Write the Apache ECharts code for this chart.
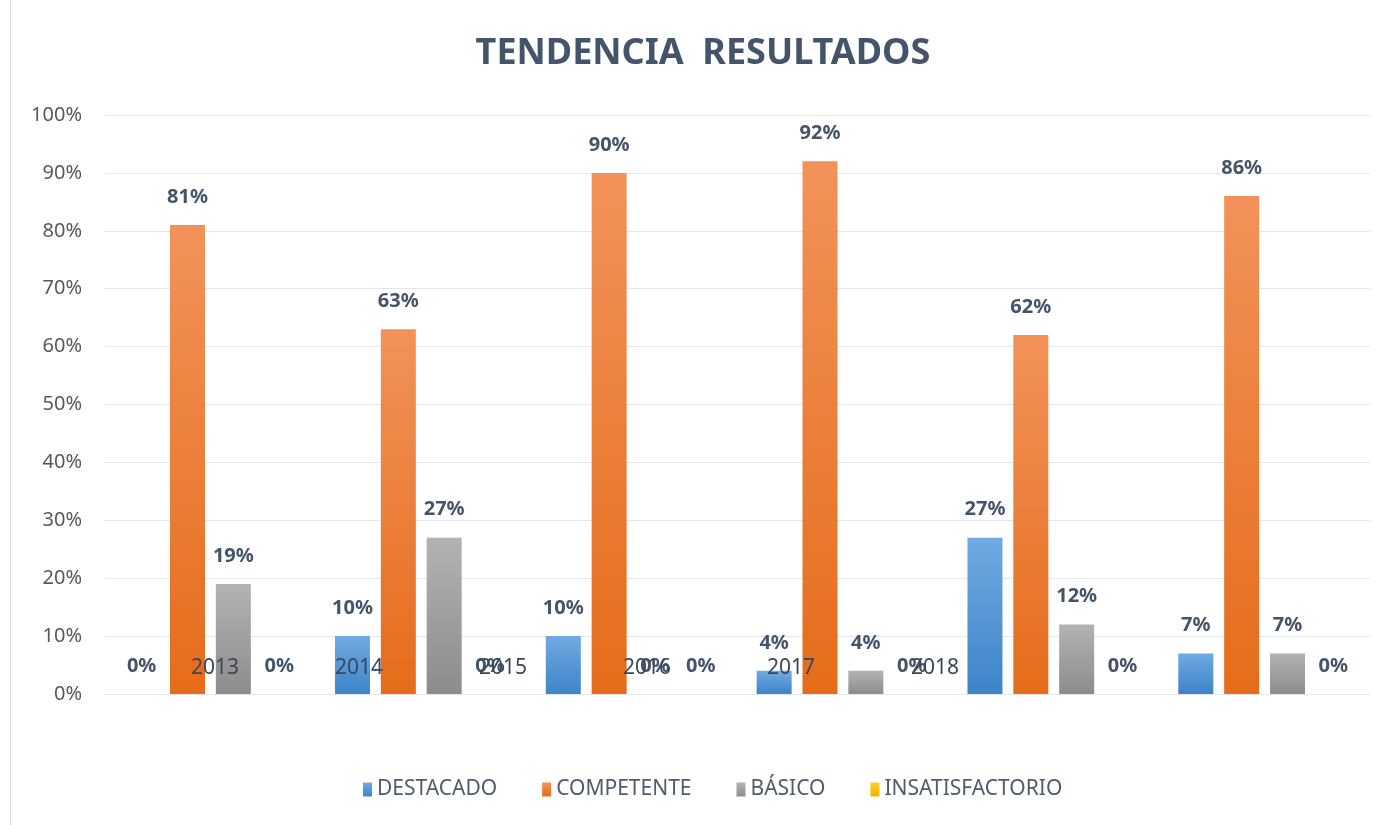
<!DOCTYPE html>
<html>
<head>
<meta charset="utf-8">
<title>Tendencia resultados</title>
<script src="https://cdn.jsdelivr.net/npm/echarts@6/dist/echarts.min.js"></script>
<style>
  html, body { margin: 0; padding: 0; background: #fff; }
  #chart { width: 1381px; height: 825px; }
  #edge { position: absolute; left: 10px; top: 0; width: 1px; height: 825px; background: #d9dde3; }
</style>
</head>
<body>
<div id="edge"></div>
<div id="chart"></div>
<script>
// datos
const years = ['2013', '2014', '2015', '2016', '2017', '2018']
const destacado = [0, 10, 10, 4, 27, 7]
const competente = [81, 63, 90, 92, 62, 86]
const basico = [19, 27, 0, 4, 12, 7]
const insatisfactorio = [0, 0, 0, 0, 0, 0]
const seriesNames = ['DESTACADO', 'COMPETENTE', 'BÁSICO', 'INSATISFACTORIO']

const font = '"Noto Sans", "Open Sans", sans-serif'

// degradado por barra, claro arriba y oscuro abajo
const grad = (top, bottom) => new echarts.graphic.LinearGradient(0, 0, 0, 1, [
  { offset: 0, color: top },
  { offset: 1, color: bottom }
])

const makeBar = (name, data, fill) => ({
  name: name,
  type: 'bar',
  data: data,
  barWidth: 35,
  barGap: '31%',
  itemStyle: { color: fill },
  label: {
    show: true,
    position: 'top',
    distance: 18,
    formatter: '{c}%',
    color: '#44546a',
    fontFamily: font,
    fontSize: 20,
    fontWeight: 'bold'
  },
  emphasis: { disabled: true }
})

const chart = echarts.init(document.getElementById('chart'))

chart.setOption({
  animation: false,
  color: ['#5b9bd5', '#ed7d31', '#a5a5a5', '#ffc000'],
  title: {
    text: 'TENDENCIA  RESULTADOS',
    left: 703,
    textAlign: 'center',
    top: 36,
    padding: 0,
    textStyle: {
      color: '#44546a',
      fontFamily: font,
      fontSize: 36,
      fontWeight: 'bold'
    }
  },
  legend: {
    data: seriesNames,
    left: 358,
    top: 774,
    itemWidth: 9,
    itemHeight: 14,
    itemGap: 45,
    icon: 'rect',
    textStyle: {
      color: '#4f5b6e',
      fontFamily: font,
      fontSize: 21
    }
  },
  grid: [
    { left: 105, right: 11, top: 115, bottom: 131 },
    // rejilla auxiliar solo para las etiquetas de los años (desplazadas como en el original)
    { left: 143, width: 864, top: 115, bottom: 131 }
  ],
  xAxis: [
    {
      type: 'category',
      gridIndex: 0,
      data: years,
      axisLine: { show: false },
      axisTick: { show: false },
      axisLabel: { show: false }
    },
    {
      type: 'category',
      gridIndex: 1,
      data: years,
      z: 10,
      axisLine: { show: false },
      axisTick: { show: false },
      axisLabel: {
        margin: -36,
        color: '#3a475a',
        fontFamily: font,
        fontSize: 21
      }
    }
  ],
  yAxis: [
    {
      type: 'value',
      gridIndex: 0,
      min: 0,
      max: 100,
      interval: 10,
      axisLine: { show: false },
      axisTick: { show: false },
      axisLabel: {
        formatter: '{value}%',
        margin: 23,
        color: '#595959',
        fontFamily: font,
        fontSize: 20
      },
      splitLine: { lineStyle: { color: '#e3e7ec', width: 1 } }
    },
    {
      type: 'value',
      gridIndex: 1,
      min: 0,
      max: 1,
      show: false
    }
  ],
  series: [
    makeBar(seriesNames[0], destacado, grad('#70aae2', '#3d84c9')),
    makeBar(seriesNames[1], competente, grad('#f2925a', '#e56c1a')),
    makeBar(seriesNames[2], basico, grad('#b3b3b3', '#8c8c8c')),
    makeBar(seriesNames[3], insatisfactorio, grad('#ffcb2e', '#f0b400'))
  ]
})
</script>
</body>
</html>
